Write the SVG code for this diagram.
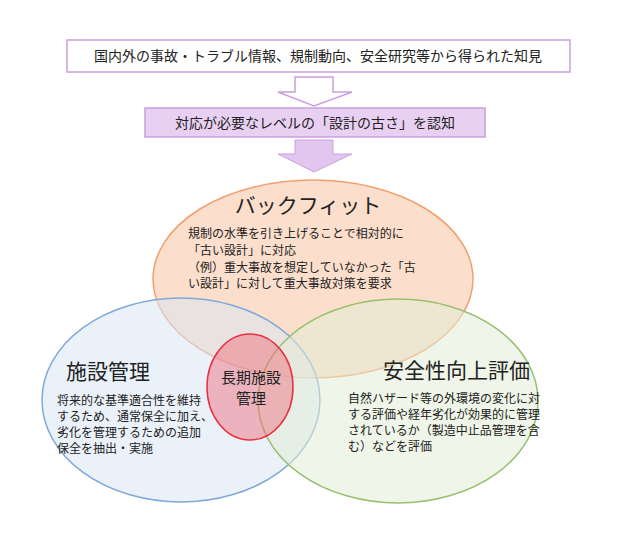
<svg xmlns="http://www.w3.org/2000/svg" width="630" height="538" viewBox="0 0 630 538">
<style>
text{font-family:"Noto Sans CJK JP","Noto Sans",sans-serif;fill:#222}
.b{font-size:12px}
.h{font-size:21px}
</style>
<rect width="630" height="538" fill="#fff"/>
<g id="box1"><rect x="67" y="40" width="503" height="32" fill="#fff" stroke="#c9a0dc" stroke-width="1.5"/>
<text x="318" y="61" text-anchor="middle" font-size="14">国内外の事故・トラブル情報、規制動向、安全研究等から得られた知見</text></g>
<g id="box2"><rect x="145" y="108" width="340" height="29" fill="#e8d0f2" stroke="#c9a0dc" stroke-width="1.5"/>
<text x="315" y="128" text-anchor="middle" font-size="14">対応が必要なレベルの「設計の古さ」を認知</text></g>
<g id="connectors">
<path d="M295 77H333V92H352L314 106L278 92H295Z" fill="#fff" stroke="#c9a0dc" stroke-width="1.5"/>
<path d="M295 140H333V154H352L314 172L278 154H295Z" fill="#e3c6f0" stroke="#c9a0dc" stroke-width="1"/>
</g>
<g id="backfit"><ellipse cx="313" cy="279" rx="160" ry="99" fill="#f8c8a8" fill-opacity="0.6" stroke="#f0a070" stroke-width="1.5"/>
<text x="308" y="213" text-anchor="middle" class="h">バックフィット</text>
<text class="b" x="188" y="238">規制の水準を引き上げることで相対的に</text>
<text class="b" x="188" y="255">「古い設計」に対応</text>
<text class="b" x="188" y="272">（例）重大事故を想定していなかった「古</text>
<text class="b" x="188" y="288">い設計」に対して重大事故対策を要求</text></g>
<g id="shisetsu"><ellipse cx="181" cy="400" rx="139" ry="102" fill="#d8e6f4" fill-opacity="0.55" stroke="#80a8d8" stroke-width="1.5"/>
<text x="66" y="379" class="h">施設管理</text>
<text class="b" x="57" y="405">将来的な基準適合性を維持</text>
<text class="b" x="57" y="421">するため、通常保全に加え、</text>
<text class="b" x="57" y="437">劣化を管理するための追加</text>
<text class="b" x="57" y="453">保全を抽出・実施</text></g>
<g id="anzen"><ellipse cx="398" cy="401" rx="140" ry="102" fill="#e2ecd6" fill-opacity="0.55" stroke="#98c070" stroke-width="1.5"/>
<text x="383" y="378" class="h">安全性向上評価</text>
<text class="b" x="348" y="403">自然ハザード等の外環境の変化に対</text>
<text class="b" x="348" y="419">する評価や経年劣化が効果的に管理</text>
<text class="b" x="348" y="435">されているか（製造中止品管理を含</text>
<text class="b" x="348" y="451">む）などを評価</text></g>
<g id="choki"><ellipse cx="250" cy="387" rx="43" ry="53" fill="#f06878" fill-opacity="0.45" stroke="#e83040" stroke-width="1.5"/>
<text x="251" y="383" text-anchor="middle" font-size="15">長期施設</text>
<text x="251" y="404" text-anchor="middle" font-size="15">管理</text></g>
</svg>
